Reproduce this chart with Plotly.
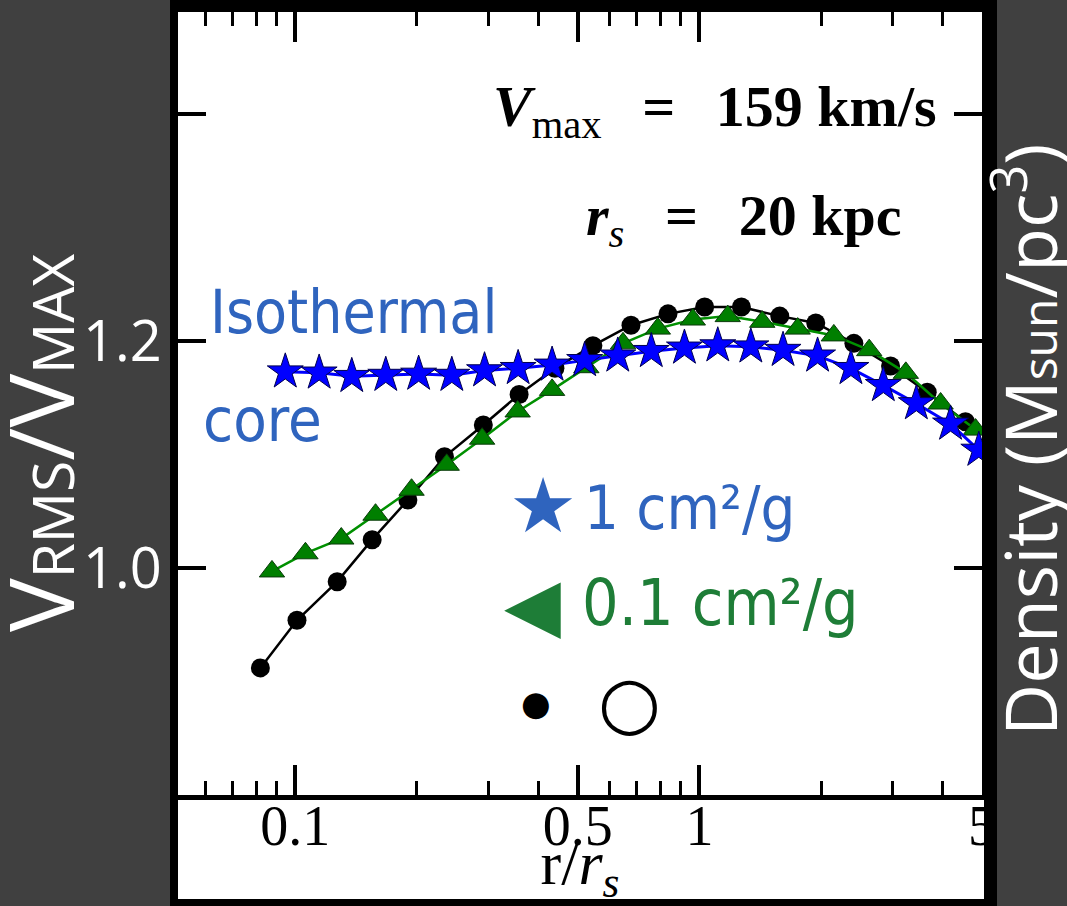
import plotly.graph_objects as go

# ---------------- data ----------------
r_black = [0.082, 0.101, 0.127, 0.155, 0.19, 0.234, 0.292, 0.358, 0.439, 0.545,
           0.677, 0.836, 1.03, 1.27, 1.58, 1.94, 2.41, 2.97, 3.66, 4.55]
v_black = [0.912, 0.954, 0.988, 1.025, 1.060, 1.098, 1.126, 1.153, 1.176, 1.196,
           1.214, 1.224, 1.230, 1.230, 1.222, 1.216, 1.198, 1.178, 1.155, 1.129]

r_green = [0.0876, 0.106, 0.130, 0.158, 0.194, 0.237, 0.290, 0.355, 0.432, 0.525,
           0.647, 0.789, 0.963, 1.175, 1.43, 1.75, 2.15, 2.63, 3.24, 3.95, 4.82]
v_green = [0.997, 1.013, 1.026, 1.047, 1.069, 1.091, 1.114, 1.138, 1.157, 1.177,
           1.198, 1.211, 1.219, 1.222, 1.217, 1.211, 1.205, 1.192, 1.172, 1.145, 1.122]

r_blue = [0.0945, 0.1146, 0.138, 0.1675, 0.202, 0.244, 0.294, 0.356, 0.432, 0.520,
          0.628, 0.76, 0.918, 1.11, 1.34, 1.61, 1.96, 2.37, 2.85, 3.44, 4.18, 4.91]
v_blue = [1.173, 1.172, 1.169, 1.170, 1.171, 1.170, 1.174, 1.176, 1.179, 1.183,
          1.187, 1.191, 1.194, 1.196, 1.195, 1.192, 1.187, 1.176, 1.161, 1.145, 1.127, 1.104]

x_major_ticks = [0.1, 0.5, 1, 5]
x_major_text = ["0.1", "0.5", "1", "5"]
x_minor_ticks = [0.06, 0.07, 0.08, 0.09, 0.2, 0.3, 0.4, 0.6, 0.7, 0.8, 0.9, 2, 3, 4]
y_ticks = [1.0, 1.2, 1.4]
y_tick_text = ["1.0", "1.2", ""]

# ---------------- layout geometry (pixels) ----------------
W, H = 1067, 906
L, R_EDGE, T, B_EDGE = 178, 982, 12, 795
PW, PH = R_EDGE - L, B_EDGE - T


def px(x):
    return (x - L) / PW


def py(y):
    return (B_EDGE - y) / PH


fig = go.Figure()
fig.add_trace(go.Scatter(
    x=r_black, y=v_black, mode="lines+markers", name="CDM",
    line=dict(color="black", width=2.5),
    marker=dict(symbol="circle", size=19, color="black"),
))
fig.add_trace(go.Scatter(
    x=r_green, y=v_green, mode="lines+markers", name="0.1 cm2/g",
    line=dict(color="#009000", width=2.5),
    marker=dict(symbol="triangle-up", size=22, color="#007F00",
                line=dict(color="#0a3a0a", width=1)),
))
fig.add_trace(go.Scatter(
    x=r_blue, y=v_blue, mode="lines+markers", name="1 cm2/g",
    line=dict(color="#0000FF", width=3),
    marker=dict(symbol="star", size=27, color="#0000FF",
                line=dict(color="#000050", width=1)),
))

serif = "Liberation Serif, DejaVu Serif, serif"
sans = "Open Sans, Noto Sans, sans-serif"
hand = "Liberation Sans Narrow, DejaVu Sans Condensed, Liberation Sans, sans-serif"
blue_ink = "#2F64BE"
green_ink = "#1E7D37"
sp = "\u00a0\u00a0\u2009"


def note(text, x, y, size, color, family, xanchor="center", angle=0):
    return dict(text=text, x=px(x), y=py(y), xref="paper", yref="paper",
                xanchor=xanchor, yanchor="middle", textangle=angle, showarrow=False,
                font=dict(family=family, size=size, color=color))


shapes = [
    dict(type="rect", xref="paper", yref="paper", layer="below",
         x0=px(170), x1=px(997), y0=py(906), y1=py(0),
         fillcolor="black", line=dict(width=0)),
    dict(type="rect", xref="paper", yref="paper", layer="below",
         x0=px(178), x1=px(984), y0=py(899), y1=py(9),
         fillcolor="white", line=dict(width=0)),
]

annotations = [
    note("<b><i>V</i></b><sub>max</sub><b>" + sp + "=" + sp + "159 km/s</b>",
         939, 110, 58, "black", serif, xanchor="right"),
    note("<b><i>r</i></b><sub><i>s</i></sub><b>" + sp + "=" + sp + "20 kpc</b>",
         903, 220, 58, "black", serif, xanchor="right"),
    note("Isothermal", 353, 312, 60, blue_ink, hand),
    note("core", 262, 420, 61, blue_ink, hand),
    note("\u2605", 543, 505, 76, blue_ink, "DejaVu Sans"),
    note("1 cm\u00b2/g", 582, 508, 61, blue_ink, hand, xanchor="left"),
    note("\u25c0", 532, 604, 74, green_ink, "DejaVu Sans"),
    note("0.1 cm\u00b2/g", 580, 603, 64, green_ink, hand, xanchor="left"),
    note("\u25cf", 536, 703, 34, "black", "DejaVu Sans"),
    note("\u25cb", 629, 702, 72, "black", "DejaVu Sans"),
    note("V<span style='font-size:57px'>RMS</span>/V<span style='font-size:57px'>MAX</span>",
         39, 443, 90, "white", sans, angle=-90),
    note("Density (M<span style='font-size:48px'>sun</span>/pc<sup>3</sup>)",
         1025, 440, 72, "white", sans, angle=-90),
]

fig.update_layout(
    width=W, height=H, autosize=False,
    margin=dict(l=L, r=W - R_EDGE, t=T, b=H - B_EDGE, pad=0, autoexpand=False),
    paper_bgcolor="#404040", plot_bgcolor="white",
    showlegend=False,
    shapes=shapes, annotations=annotations,
    xaxis=dict(
        type="log", range=[-1.29, 0.699], automargin=False,
        tickvals=x_major_ticks, ticktext=x_major_text,
        ticks="inside", ticklen=30, tickwidth=3.5, tickcolor="black",
        showline=True, linecolor="black", linewidth=5, mirror="ticks",
        showgrid=False, zeroline=False,
        tickfont=dict(family=serif, size=56, color="black"),
        ticklabelstandoff=-22,
        title=dict(text="r/<i>r</i><sub><i>s</i></sub>", standoff=6,
                   font=dict(family=serif, size=62, color="black")),
        minor=dict(tickvals=x_minor_ticks, ticks="inside", ticklen=14,
                   tickwidth=2.5, tickcolor="black", showgrid=False),
    ),
    yaxis=dict(
        range=[0.8, 1.49], automargin=False,
        tickvals=y_ticks, ticktext=y_tick_text,
        ticks="inside", ticklen=28, tickwidth=4, tickcolor="black",
        showline=True, linecolor="black", linewidth=5, mirror="ticks",
        showgrid=False, zeroline=False,
        tickfont=dict(family=sans, size=56, color="white"),
    ),
)

fig.write_html(
    "out.html",
    config={"displayModeBar": False},
    post_script="document.body.style.margin='0';document.body.style.overflow='hidden';",
)
